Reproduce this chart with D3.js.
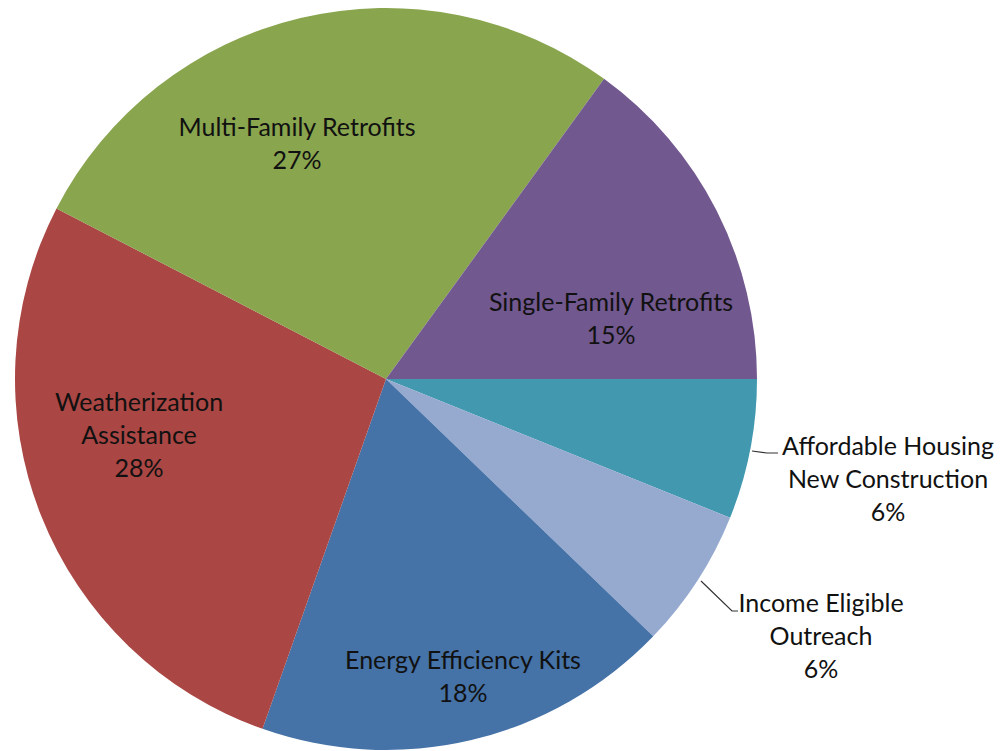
<!DOCTYPE html>
<html>
<head>
<meta charset="utf-8">
<script src="https://cdn.jsdelivr.net/npm/d3@7"></script>
<style>
  body { margin: 0; background: #fff; }
  text { font-family: Lato, "Open Sans", sans-serif; fill: #111; }
</style>
</head>
<body>
<div id="chart"></div>
<script>
// data, clockwise from 3 o'clock
var categories = [
  ["Affordable Housing", "New Construction"],
  ["Income Eligible", "Outreach"],
  ["Energy Efficiency Kits"],
  ["Weatherization", "Assistance"],
  ["Multi-Family Retrofits"],
  ["Single-Family Retrofits"]
];
// slice sizes as drawn, and the percent labels as printed
var shares = [6.1, 6.1, 18.2, 27.2, 27.4, 15.0];
var pctLabels = ["6%", "6%", "18%", "28%", "27%", "15%"];
var colors = ["#4198AF", "#96A9CF", "#4572A7", "#AA4643", "#89A54E", "#71588F"];

var svgWidth = 1001;
var svgHeight = 751;
var cx = 386, cy = 379, radius = 371;

var svg = d3.select("#chart")
  .append("svg")
  .attr("width", svgWidth)
  .attr("height", svgHeight);

var pieGroup = svg.append("g")
  .attr("transform", `translate(${cx}, ${cy})`);

var pie = d3.pie()
  .sort(null)
  .value(d => d)
  .startAngle(Math.PI / 2)
  .endAngle(Math.PI / 2 + 2 * Math.PI);

var arc = d3.arc().innerRadius(0).outerRadius(radius);

var arcs = pie(shares);

pieGroup.selectAll("path")
  .data(arcs)
  .enter()
  .append("path")
  .attr("d", arc)
  .attr("fill", (d, i) => colors[i]);

// label centres (relative to pie centre), excel "best fit" style
var labelAt = [
  [502, 100],
  [435, 257],
  [77, 298],
  [-247, 56],
  [-89, -235],
  [225, -60]
];
// leader lines for the two outside labels
var leaders = [
  [[366, 72], [381, 74], [392, 74]],
  [[315, 202], [346, 232], [352, 232]]
];

var lineH = 33;
var labels = pieGroup.selectAll("g.lbl")
  .data(arcs)
  .enter()
  .append("g")
  .attr("class", "lbl")
  .attr("transform", (d, i) => `translate(${labelAt[i][0]}, ${labelAt[i][1]})`);

labels.each(function(d, i) {
  var lines = categories[i].concat([pctLabels[i]]);
  var g = d3.select(this);
  var top = -(lines.length - 1) * lineH / 2;
  lines.forEach(function(t, k) {
    g.append("text")
      .attr("x", 0)
      .attr("y", top + k * lineH)
      .attr("dy", "0.35em")
      .attr("text-anchor", "middle")
      .attr("font-size", 25)
      .text(t);
  });
});

leaders.forEach(function(pts) {
  pieGroup.append("polyline")
    .attr("points", pts.map(p => p.join(",")).join(" "))
    .attr("fill", "none")
    .attr("stroke", "#333")
    .attr("stroke-width", 1.2);
});
</script>
</body>
</html>
